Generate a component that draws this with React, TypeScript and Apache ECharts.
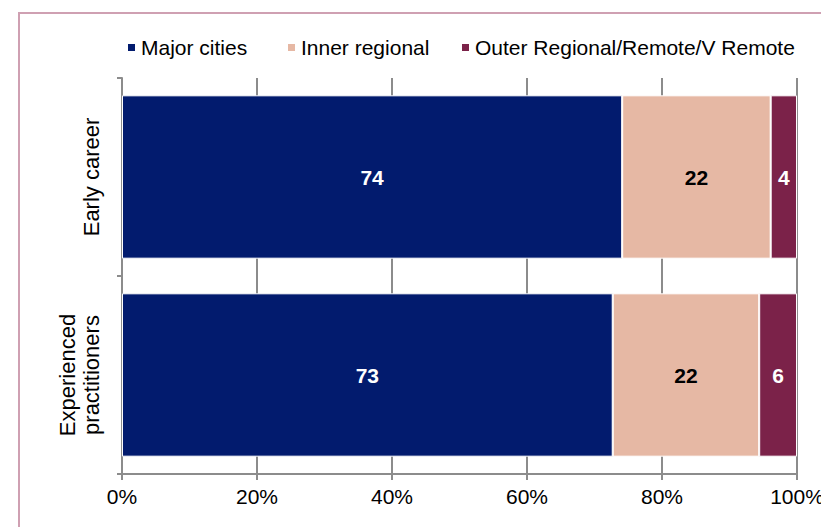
import React, { useEffect, useRef } from "react";
import * as echarts from "echarts";

const categories = ["Early career", "Experienced\npractitioners"];
const seriesNames = ["Major cities", "Inner regional", "Outer Regional/Remote/V Remote"];
const majorCities = [74.1, 72.7];
const innerRegional = [22.0, 21.7];
const outerRemote = [3.9, 5.6];
const xTicks = [0, 20, 40, 60, 80, 100];

const colors = ["#021B6E", "#E6B8A4", "#7B2249"];
const labelColors = ["#ffffff", "#000000", "#ffffff"];
const legendLefts = [126, 286, 460];
const FONT = "'Liberation Sans', Arial, sans-serif";

export default function App() {
  const ref = useRef<HTMLDivElement>(null);
  useEffect(() => {
    if (!ref.current) return;
    const chart = echarts.init(ref.current, undefined, { renderer: "svg" });
    const data = [majorCities, innerRegional, outerRemote];
    chart.setOption({
      animation: false,
      backgroundColor: "#ffffff",
      textStyle: { fontFamily: FONT },
      graphic: [
        {
          type: "rect",
          shape: { x: 19, y: 13, width: 900, height: 600 },
          style: { fill: "none", stroke: "#CFA0B2", lineWidth: 2 },
          silent: true,
        },
      ],
      legend: seriesNames.map((name, i) => ({
        top: 37,
        left: legendLefts[i],
        padding: 0,
        itemWidth: 9,
        itemHeight: 9,
        itemGap: 5,
        icon: "rect",
        textStyle: { fontSize: 21, color: "#000", fontFamily: FONT },
        data: [name],
      })),
      grid: { left: 122, right: 24, top: 78, bottom: 53, outerBoundsMode: "none", containLabel: false },
      xAxis: {
        type: "value",
        min: xTicks[0],
        max: xTicks[xTicks.length - 1],
        interval: 20,
        axisLine: { show: true, lineStyle: { color: "#8C8C8C", width: 2 } },
        axisTick: { show: true, length: 6, lineStyle: { color: "#8C8C8C", width: 2 } },
        splitLine: { show: true, lineStyle: { color: "#8C8C8C", width: 2 } },
        axisLabel: {
          formatter: "{value}%",
          fontSize: 21,
          color: "#000",
          margin: 12,
          fontFamily: FONT,
          hideOverlap: false,
        },
      },
      yAxis: {
        type: "category",
        inverse: true,
        data: categories,
        axisLine: { show: true, lineStyle: { color: "#8C8C8C", width: 2 } },
        axisTick: { show: true, length: 5, lineStyle: { color: "#8C8C8C", width: 2 } },
        axisLabel: {
          rotate: 90,
          fontSize: 22,
          color: "#000",
          margin: 19,
          lineHeight: 24,
          fontFamily: FONT,
        },
      },
      series: seriesNames.map((name, i) => ({
        name,
        type: "bar",
        stack: "total",
        barCategoryGap: "17.5%",
        data: data[i],
        itemStyle: { color: colors[i], borderColor: "#ffffff", borderWidth: 1 },
        label: {
          show: true,
          position: "inside",
          formatter: (p: any) => String(Math.round(p.value)),
          color: labelColors[i],
          fontWeight: "bold",
          fontSize: 21,
          fontFamily: FONT,
        },
      })),
    });
    return () => chart.dispose();
  }, []);
  return (
    <div
      ref={ref}
      style={{ position: "fixed", left: 0, top: 0, width: 821, height: 527 }}
    />
  );
}
